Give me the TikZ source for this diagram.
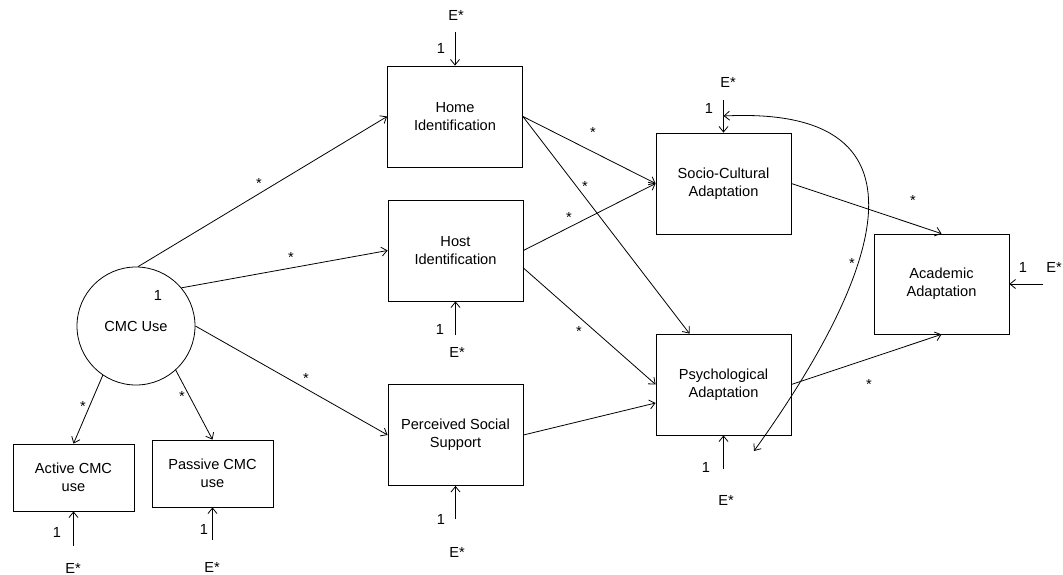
\documentclass[tikz,border=0pt]{standalone}
\usepackage{fontspec}
\setmainfont{Liberation Sans}
\usetikzlibrary{arrows.meta}
\begin{document}
\begin{tikzpicture}[x=1pt,y=-1pt,
  every node/.style={font=\fontsize{14.6}{18}\selectfont, inner sep=0pt},
  var/.style={draw, line width=0.8pt, minimum width=135pt, minimum height=101pt, align=center},
  smallvar/.style={draw, line width=0.8pt, minimum width=121pt, minimum height=67pt, align=center},
  latent/.style={draw, circle, line width=0.8pt, minimum size=118pt, align=center},
  path/.style={line width=0.8pt, -{Straight Barb[length=5.5pt,width=9pt]}},
  cov/.style={line width=0.8pt, {Straight Barb[length=5.5pt,width=9pt]}-{Straight Barb[length=5.5pt,width=9pt]}},
  est/.style={anchor=base, yshift=-8.5pt},
  lbl/.style={}
]
\useasboundingbox (0,0) rectangle (1063,575);

% latent factor and its indicators
\node[latent] (cmc) at (136,326) {CMC Use};
\node[lbl] (cmcone) at (158,295) {1};
\node[smallvar] (active) at (73.5,477.5) {Active CMC\\use};
\node[smallvar] (passive) at (212.5,473.5) {Passive CMC\\use};

% mediators
\node[var] (home) at (455,116.5) {Home\\Identification};
\node[var] (host) at (455.5,250.5) {Host\\Identification};
\node[var] (pss) at (455.5,435) {Perceived Social\\Support};

% outcomes
\node[var] (socio) at (723.5,183.5) {Socio-Cultural\\Adaptation};
\node[var] (psych) at (723.5,384.5) {Psychological\\Adaptation};
\node[var, minimum height=100pt] (acad) at (941.5,284) {Academic\\Adaptation};

% structural paths
\draw[path] (cmc.88) -- (home.west);
\draw[path] (cmc.40) -- (host.west);
\draw[path] (cmc.east) -- (pss.west);
\draw[path] (cmc.-124) -- (active.north);
\draw[path] (cmc.-48) -- (passive.north);
\draw[path] (home.east) -- (socio.west);
\draw[path] (home.east) -- ([xshift=-34pt]psych.north);
\draw[path] (host.east) -- (socio.west);
\draw[path] ([yshift=-17.5pt]host.east) -- (psych.west);
\draw[path] (pss.east) -- ([yshift=-18.5pt]psych.west);
\draw[path] (socio.east) -- (acad.north);
\draw[path] (psych.east) -- (acad.south);

% free-parameter markers
\node[est] (s1) at (259,180) {*};
\node[est] (s2) at (291,254) {*};
\node[est] (s3) at (306,375) {*};
\node[est] (s4) at (83,403) {*};
\node[est] (s5) at (182,393) {*};
\node[est] (s6) at (593,129) {*};
\node[est] (s7) at (585,183) {*};
\node[est] (s8) at (569,214) {*};
\node[est] (s9) at (579,328) {*};
\node[est] (s10) at (913,197) {*};
\node[est] (s11) at (869,381) {*};
\node[est] (s12) at (852,260) {*};

% disturbance terms
\node[lbl] (ehome) at (456,15) {E*};
\coordinate (ehomes) at (455,32);
\node[lbl] (ohome) at (441,48) {1};
\draw[path] (ehomes) -- (home.north);

\node[lbl] (esocio) at (728,82) {E*};
\coordinate (esocios) at (723.5,100);
\node[lbl] (osocio) at (709,108) {1};
\draw[path] (esocios) -- (socio.north);

\node[lbl] (ehost) at (457,352) {E*};
\coordinate (ehosts) at (455.5,335);
\node[lbl] (ohost) at (440,329) {1};
\draw[path] (ehosts) -- (host.south);

\node[lbl] (epss) at (457,552) {E*};
\coordinate (epsss) at (455.5,519);
\node[lbl] (opss) at (441,519) {1};
\draw[path] (epsss) -- (pss.south);

\node[lbl] (epsych) at (726,500) {E*};
\coordinate (epsychs) at (723.5,469);
\node[lbl] (opsych) at (706,467) {1};
\draw[path] (epsychs) -- (psych.south);

\node[lbl] (eactive) at (73,568) {E*};
\coordinate (eactives) at (73.5,546);
\node[lbl] (oactive) at (57,532) {1};
\draw[path] (eactives) -- (active.south);

\node[lbl] (epassive) at (212,567) {E*};
\coordinate (epassives) at (212.5,540);
\node[lbl] (opassive) at (204,529) {1};
\draw[path] (epassives) -- (passive.south);

\node[lbl] (eacad) at (1054,267) {E*};
\coordinate (eacads) at (1043,284);
\node[lbl] (oacad) at (1023,267) {1};
\draw[path] (eacads) -- (acad.east);

% disturbance covariance
\coordinate (covtop) at (723.5,116);
\coordinate (covbot) at (754,451);
\draw[cov] (covtop) .. controls (948,105) and (874,284) .. (covbot);
\end{tikzpicture}
\end{document}
